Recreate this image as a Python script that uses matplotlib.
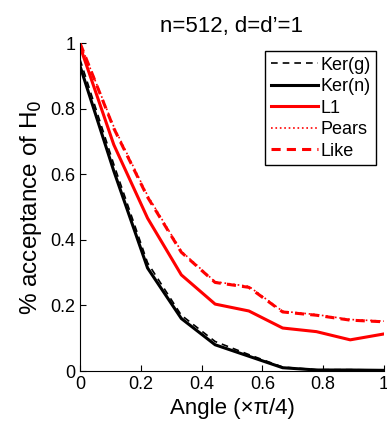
import numpy as np
import matplotlib.pyplot as plt

plt.rcParams['font.family'] = ['Liberation Sans', 'DejaVu Sans']

# angle grid (x pi/4)
angle = np.linspace(0, 1, 10)

ker_g = [0.95, 0.63, 0.33, 0.17, 0.09, 0.05, 0.012, 0.004, 0.004, 0.003]
ker_n = [0.93, 0.61, 0.314, 0.16, 0.08, 0.045, 0.01, 0.003, 0.003, 0.002]
l1 = [0.99, 0.69, 0.466, 0.293, 0.204, 0.183, 0.131, 0.12, 0.095, 0.113]
pears = [1.0, 0.745, 0.535, 0.365, 0.272, 0.258, 0.182, 0.172, 0.157, 0.152]
like = [1.0, 0.74, 0.53, 0.362, 0.27, 0.255, 0.18, 0.17, 0.155, 0.15]

fig = plt.figure(figsize=(3.87, 4.21), dpi=100)
ax = fig.add_axes([80 / 387, 1 - 371 / 421, 304 / 387, 328 / 421])

ax.plot(angle, ker_g, 'k--', lw=1.2, dashes=(4, 3), label='Ker(g)')
ax.plot(angle, ker_n, 'k-', lw=2.2, label='Ker(n)')
ax.plot(angle, l1, 'r-', lw=2.2, label='L1')
ax.plot(angle, pears, 'r:', lw=1.2, label='Pears')
ax.plot(angle, like, 'r--', lw=2.2, dashes=(3, 2), label='Like')

ax.set_xlim(0, 1)
ax.set_ylim(0, 1)
ticks = [0, 0.2, 0.4, 0.6, 0.8, 1]
ax.set_xticks(ticks)
ax.set_xticklabels(['0', '0.2', '0.4', '0.6', '0.8', '1'])
ax.set_yticks(ticks)
ax.set_yticklabels(['0', '0.2', '0.4', '0.6', '0.8', '1'])
ax.tick_params(direction='in', labelsize=13, length=4)
ax.spines['top'].set_visible(False)
ax.spines['right'].set_visible(False)

ax.set_title("n=512, d=d\u2019=1", fontsize=16, pad=8)
ax.set_xlabel('Angle (\u00d7\u03c0/4)', fontsize=16, labelpad=4)
ax.set_ylabel('% acceptance of H$_0$', fontsize=17.5, labelpad=4)

leg = ax.legend(loc='upper right', fontsize=13, fancybox=False, edgecolor='k',
                framealpha=1, handlelength=2.6, borderpad=0.3, labelspacing=0.25,
                handletextpad=0.15, borderaxespad=0.45)
leg.get_frame().set_linewidth(1.0)

fig.savefig('out.png', dpi=100)
